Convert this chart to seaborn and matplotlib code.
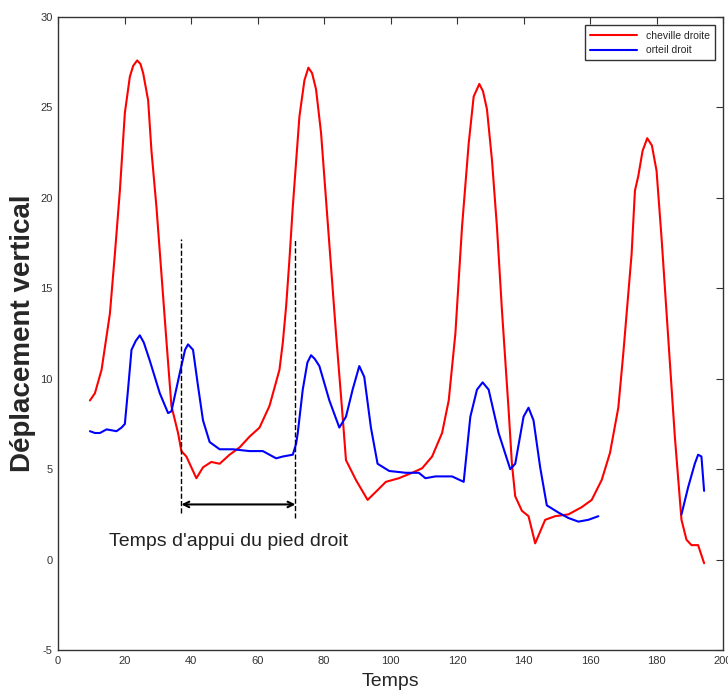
"""
Déplacement vertical cheville / orteil droit au cours du temps
"""

import pandas as pd
import matplotlib.pyplot as plt
import seaborn as sns

# Données
cheville_t = [9.6, 11.1, 13.1, 15.6, 17.1, 18.6, 20.1, 21.6, 22.6, 23.8, 24.8, 25.6, 27.1, 28.1,
              29.6, 31.1, 32.6, 34.1, 36.1, 37.1, 38.6, 41.6, 43.6, 46.1, 48.6, 51.6,
              54.6, 57.6, 60.6, 63.6, 66.6, 67.6, 68.6, 69.6, 70.6, 71.6, 72.6, 74.1,
              75.3, 76.4, 77.6, 79.1, 80.6, 82.1, 83.6, 85.6, 86.6, 89.6, 93.1, 95.6, 98.6,
              102.5, 106.5, 109.5, 112.5, 115.5, 117.5, 119.5, 121.5, 123.5, 125.0, 126.7,
              127.8, 129.0, 130.5, 132.0, 133.5, 135.5, 136.5, 137.5, 139.5, 141.5, 143.5, 146.5,
              149.5, 153.5, 157.5, 160.5, 163.5, 166.0, 168.5, 170.0, 172.5, 173.5, 174.5,
              175.8, 177.2, 178.6, 180.0, 181.5, 183.5, 185.5, 187.5, 189.0, 190.5, 192.5, 194.3]
cheville_y = [8.8, 9.2, 10.5, 13.6, 16.9, 20.4, 24.7, 26.7, 27.3, 27.6, 27.4, 26.9, 25.4, 22.6,
              19.5, 15.8, 12.1, 8.5, 7.0, 6.0, 5.7, 4.5, 5.1, 5.4, 5.3, 5.8,
              6.2, 6.8, 7.3, 8.5, 10.5, 12.0, 14.0, 16.6, 19.5, 22.0, 24.5, 26.5,
              27.2, 26.9, 26.0, 23.6, 19.9, 16.2, 12.5, 7.9, 5.5, 4.4, 3.3, 3.75, 4.3,
              4.5, 4.8, 5.05, 5.7, 7.0, 8.8, 12.5, 18.4, 23.0, 25.6, 26.3,
              25.9, 24.9, 22.1, 18.4, 13.8, 8.3, 5.3, 3.5, 2.7, 2.4, 0.9, 2.2,
              2.4, 2.5, 2.9, 3.3, 4.4, 5.9, 8.4, 11.4, 16.9, 20.4, 21.2,
              22.6, 23.3, 22.9, 21.5, 17.8, 12.3, 6.8, 2.2, 1.1, 0.8, 0.8, -0.2]

# orteil : deux morceaux (trou entre ~163 et ~187)
orteil_t1 = [9.6, 11.1, 12.6, 14.6, 17.6, 19.1, 20.1, 21.1, 22.1, 23.4, 24.6, 25.8, 27.6, 30.6,
             33.1, 34.1, 36.6, 38.2, 39.1, 40.6, 42.1, 43.6, 45.6, 48.6, 52.6, 57.6, 61.6,
             65.6, 67.6, 70.6, 71.6, 72.1, 73.6, 75.0, 76.1, 77.2, 78.6, 81.6, 84.6, 86.6, 88.6,
             90.6, 92.1, 94.1, 96.1, 99.6, 104.6, 108.5, 110.5, 113.5, 118.5, 122.0,
             124.0, 126.0, 127.7, 129.5, 132.5, 136.0, 137.5, 140.0, 141.5, 143.0,
             145.0, 147.0, 150.5, 153.5, 156.5, 159.5, 161.0, 162.5]
orteil_y1 = [7.1, 7.0, 7.0, 7.2, 7.1, 7.3, 7.5, 9.5, 11.6, 12.1, 12.4, 12.0, 11.0, 9.2,
             8.1, 8.2, 10.3, 11.6, 11.9, 11.6, 9.6, 7.7, 6.5, 6.1, 6.1, 6.0, 6.0,
             5.6, 5.7, 5.8, 6.4, 7.0, 9.4, 10.9, 11.3, 11.1, 10.7, 8.8, 7.3, 7.9, 9.4,
             10.7, 10.1, 7.3, 5.3, 4.9, 4.8, 4.8, 4.5, 4.6, 4.6, 4.3,
             7.9, 9.4, 9.8, 9.4, 7.0, 5.0, 5.3, 7.9, 8.4, 7.7,
             5.1, 3.0, 2.6, 2.3, 2.1, 2.2, 2.3, 2.4]
orteil_t2 = [187.5, 189.5, 191.5, 192.5, 193.5, 194.3]
orteil_y2 = [2.5, 4.0, 5.3, 5.8, 5.7, 3.8]

series_names = ['cheville droite', 'orteil droit']
series_colors = ['#ff0000', '#0000ff']

# phase d'appui (lignes pointillées)
appui_debut = 37.1
appui_fin = 71.4

# Table longue pour seaborn
df = pd.concat([
    pd.DataFrame({'t': cheville_t, 'y': cheville_y, 'serie': series_names[0], 'morceau': 0}),
    pd.DataFrame({'t': orteil_t1, 'y': orteil_y1, 'serie': series_names[1], 'morceau': 1}),
    pd.DataFrame({'t': orteil_t2, 'y': orteil_y2, 'serie': series_names[1], 'morceau': 2}),
], ignore_index=True)

sns.set_style("white")
plt.rcParams['font.family'] = ['Liberation Sans', 'DejaVu Sans']
plt.rcParams['axes.unicode_minus'] = False

fig = plt.figure(figsize=(7.28, 6.95), dpi=100)
ax = fig.add_axes([0.0797, 0.0647, 0.9135, 0.9108])

sns.lineplot(data=df, x='t', y='y', hue='serie', units='morceau', estimator=None,
             palette=dict(zip(series_names, series_colors)), linewidth=1.5,
             sort=False, ax=ax)

# lignes pointillées + flèche
ax.plot([appui_debut, appui_debut], [2.6, 17.7], color='black', ls='--', lw=1.0)
ax.plot([appui_fin, appui_fin], [2.3, 17.7], color='black', ls='--', lw=1.0)
ax.annotate('', xy=(appui_debut, 3.05), xytext=(appui_fin, 3.05),
            arrowprops=dict(arrowstyle='<->', color='black', lw=1.5,
                            shrinkA=0, shrinkB=0))
ax.text((appui_debut + appui_fin) / 2 - 3, 1.0, "Temps d'appui du pied droit",
        ha='center', va='center', fontsize=14, color='#222222')

ax.set_xlim(0, 200)
ax.set_ylim(-5, 30)
ax.set_xticks(range(0, 201, 20))
ax.set_yticks(range(-5, 31, 5))
ax.tick_params(direction='in', top=True, right=True, length=5, width=0.8,
               labelsize=8, colors='#333333', pad=4)
for sp in ax.spines.values():
    sp.set_color('#333333')
    sp.set_linewidth(1.0)

ax.set_xlabel('Temps', fontsize=14)
ax.xaxis.set_label_coords(0.5, -0.036)
ax.set_ylabel('Déplacement vertical', fontsize=20, fontweight='bold')
ax.yaxis.set_label_coords(-0.033, 0.5)

leg = ax.legend(loc='upper right', fontsize=7.5, frameon=True, fancybox=False,
                edgecolor='black', handlelength=4.5, borderaxespad=0.8,
                labelspacing=0.45, borderpad=0.5)
leg.get_frame().set_linewidth(1.0)

plt.savefig('out.png', dpi=100)
plt.close()
